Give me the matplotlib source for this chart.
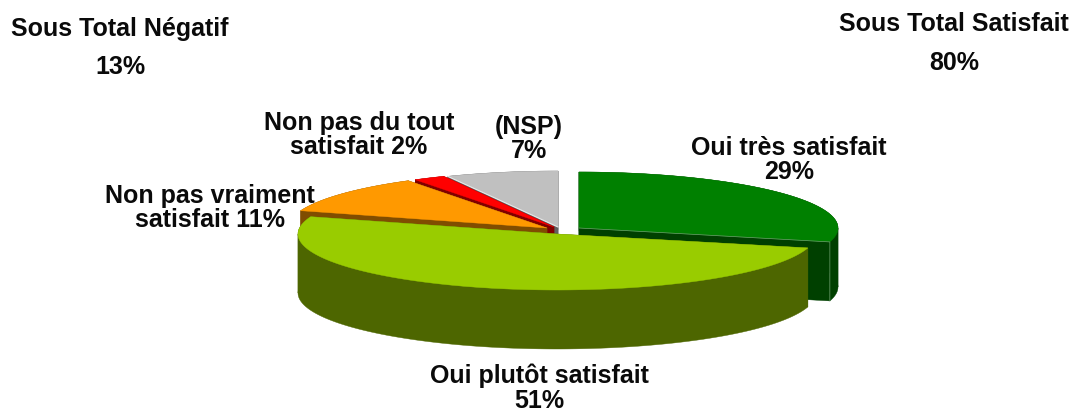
import numpy as np
import matplotlib
matplotlib.use('Agg')
import matplotlib.pyplot as plt
from matplotlib.patches import Polygon

# sens horaire depuis midi
labels = ["Oui très satisfait", "Oui plutôt satisfait", "Non pas vraiment satisfait",
          "Non pas du tout satisfait", "(NSP)"]
values = [29, 51, 11, 2, 7]
sous_totaux = ["Sous Total Satisfait", "Sous Total Négatif"]
sous_totaux_pct = [80, 13]

top_colors = ['#008000', '#99CC00', '#FF9900', '#FF0000', '#C0C0C0']
side_colors = ['#004000', '#4D6600', '#804D00', '#800000', '#606060']
# sommet de chaque part apres eclatement (pixels)
apex = [(579, 228), (557, 234), (547, 228), (554, 227), (558, 227)]
RX, RY, DEPTH = 259, 56, 59

plt.rcParams['font.family'] = ['Liberation Sans', 'DejaVu Sans']
fig = plt.figure(figsize=(10.74, 4.12), dpi=100)
ax = fig.add_axes([0, 0, 1, 1])
ax.set_xlim(0, 1074)
ax.set_ylim(412, 0)
ax.axis('off')

edges = np.cumsum([0] + values) / sum(values) * 2 * np.pi


def draw_slice(i):
    cx, cy = apex[i]
    t = np.linspace(edges[i], edges[i + 1], 160)
    # on coupe l'arc aux extremes gauche/droite pour que le bord reste plein
    t = np.sort(np.r_[t, [a for a in (np.pi / 2, 3 * np.pi / 2) if edges[i] < a < edges[i + 1]]])
    x = cx + RX * np.sin(t)
    y = cy - RY * np.cos(t)
    # faces coupees
    for px, py in [(x[0], y[0]), (x[-1], y[-1])]:
        pts = [(cx, cy), (px, py), (px, py + DEPTH), (cx, cy + DEPTH)]
        ax.add_patch(Polygon(pts, closed=True, fc=side_colors[i], ec=side_colors[i], lw=0.3))
    # bord exterieur
    cuts = [k for k, a in enumerate(t) if a in (np.pi / 2, 3 * np.pi / 2)]
    for a, b in zip([0] + cuts, cuts + [len(t) - 1]):
        sx, sy = x[a:b + 1], y[a:b + 1]
        pts = np.column_stack([np.r_[sx, sx[::-1]], np.r_[sy, sy[::-1] + DEPTH]])
        ax.add_patch(Polygon(pts, closed=True, fc=side_colors[i], ec=side_colors[i], lw=0.3))
    pts = np.column_stack([np.r_[cx, x], np.r_[cy, y]])
    ax.add_patch(Polygon(pts, closed=True, fc=top_colors[i], ec=top_colors[i], lw=0.3))
    return x, y


# de l'arriere vers l'avant
for i in [4, 3, 2, 0, 1]:
    x, y = draw_slice(i)
    # filets clairs visibles sur le vert et le gris
    if i == 0:
        ax.plot([apex[0][0], x[-1], x[-1]], [apex[0][1], y[-1], y[-1] + DEPTH], color='#6F9F6F', lw=0.5)
    if i == 4:
        ax.plot([apex[4][0], x[0]], [apex[4][1], y[0]], color='#E8E8E8', lw=0.8)

txt = dict(ha='center', va='center', fontsize=18, fontweight='bold', color='#0A0A0A', linespacing=1.04)
ax.text(789, 160, f"{labels[0]}\n{values[0]}%", **txt)
ax.text(539, 388, f"{labels[1]}\n{values[1]}%", **txt)
ax.text(210, 208, f"Non pas vraiment\nsatisfait {values[2]}%", **txt)
ax.text(359, 135, f"Non pas du tout\nsatisfait {values[3]}%", **txt)
ax.text(529, 139, f"{labels[4]}\n{values[4]}%", **txt)
ax.text(954, 24, sous_totaux[0], **txt)
ax.text(954, 63, f"{sous_totaux_pct[0]}%", **txt)
ax.text(120, 29, sous_totaux[1], **txt)
ax.text(120, 67, f"{sous_totaux_pct[1]}%", **txt)

fig.savefig('out.png', dpi=100, facecolor='white')
plt.close()
